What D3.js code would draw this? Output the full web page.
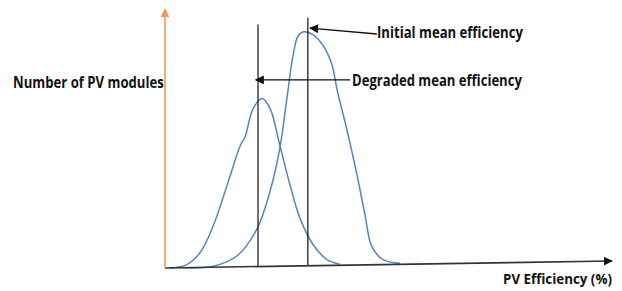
<!DOCTYPE html>
<html>
<head>
<meta charset="utf-8">
<script src="https://cdn.jsdelivr.net/npm/d3@7"></script>
<style>
    body { margin: 0; background: #ffffff; }
    svg { display: block; }
    .lbl { font-family: "Liberation Sans Narrow", "Open Sans", sans-serif; font-weight: bold; font-size: 16px; fill: #111; }
</style>
</head>
<body>
<div id="chart"></div>
<script>
// efficiency (arbitrary units) vs number of modules
const degradedX = [1.1, 4.9, 7.9, 10.8, 13.9, 16.9, 18.0, 19.8, 21.8, 23.6, 25.8, 28.1, 30.3, 33.3, 36.4, 39.3];
const degradedY = [0, 1.2, 5.8, 15.9, 31.4, 46.9, 50.4, 61.2, 65.1, 61.2, 46.9, 31.4, 18.6, 8.1, 2.3, 0.4];

const initialX = [4.0, 10.8, 16.2, 20.7, 23.6, 25.8, 27.4, 28.8, 29.9, 31.2, 33.3, 35.5, 37.5, 38.7, 40.9, 43.1, 44.9, 46.5, 49.0, 52.8];
const initialY = [0, 0.4, 4.3, 14.7, 29.1, 45.7, 65.1, 81.8, 89.1, 90.7, 89.5, 85.3, 77.9, 67.8, 52.3, 35.3, 19.8, 7.0, 1.9, 0.4];

const meanX = [20.9, 32.1];
const meanTop = [93.8, 96.1];

const labels = ["Initial mean efficiency", "Degraded mean efficiency"];
const yTitle = "Number of PV modules";
const xTitle = "PV Efficiency (%)";

const width = 622;
const height = 291;

const svg = d3.select("#chart")
    .append("svg")
    .attr("width", width)
    .attr("height", height);

const x = d3.scaleLinear().domain([0, 100]).range([165, 610]);
const y = d3.scaleLinear().domain([0, 100]).range([268, 10]);

const defs = svg.append("defs");
function marker(id, color) {
    defs.append("marker")
        .attr("id", id)
        .attr("viewBox", "0 0 10 10")
        .attr("refX", 9)
        .attr("refY", 5)
        .attr("markerWidth", 9)
        .attr("markerHeight", 9)
        .attr("markerUnits", "userSpaceOnUse")
        .attr("orient", "auto")
        .append("path")
        .attr("d", "M0,0L10,5L0,10Z")
        .attr("fill", color);
}
marker("blackhead", "#111");
marker("orangehead", "#f39a5a");

// the sketch's baseline is tilted a little
const g = svg.append("g")
    .attr("transform", `translate(${x(0)},${y(0)}) skewY(-0.9) translate(${-x(0)},${-y(0)})`);

const line = d3.line()
    .x(d => x(d[0]))
    .y(d => y(d[1]))
    .curve(d3.curveCatmullRom.alpha(0.5));

const degraded = degradedX.map((v, i) => [v, degradedY[i]]);
const initial = initialX.map((v, i) => [v, initialY[i]]);

g.selectAll("path.curve")
    .data([degraded, initial])
    .enter().append("path")
    .attr("class", "curve")
    .attr("d", line)
    .attr("fill", "none")
    .attr("stroke", "#5585c0")
    .attr("stroke-width", 1.5);

g.selectAll("line.mean")
    .data(meanX)
    .enter().append("line")
    .attr("class", "mean")
    .attr("x1", d => x(d))
    .attr("x2", d => x(d))
    .attr("y1", y(0))
    .attr("y2", (d, i) => y(meanTop[i]))
    .attr("stroke", "#111")
    .attr("stroke-width", 1.2);

// x axis
g.append("line")
    .attr("x1", x(0))
    .attr("x2", x(100) + 2)
    .attr("y1", y(0))
    .attr("y2", y(0))
    .attr("stroke", "#333")
    .attr("stroke-width", 1.6)
    .attr("marker-end", "url(#blackhead)");

// y axis
svg.append("line")
    .attr("x1", x(0))
    .attr("x2", x(0))
    .attr("y1", y(0))
    .attr("y2", y(100) - 1)
    .attr("stroke", "#f39a5a")
    .attr("stroke-width", 1.6)
    .attr("marker-end", "url(#orangehead)");

// annotation arrows
const arrows = [
    { from: [47.6, 90.7], to: [32.6, 93.0] },
    { from: [41.6, 72.9], to: [20.4, 72.9] }
];
svg.selectAll("line.arrow")
    .data(arrows)
    .enter().append("line")
    .attr("class", "arrow")
    .attr("x1", d => x(d.from[0]))
    .attr("y1", d => y(d.from[1]))
    .attr("x2", d => x(d.to[0]))
    .attr("y2", d => y(d.to[1]))
    .attr("stroke", "#111")
    .attr("stroke-width", 1.3)
    .attr("marker-end", "url(#blackhead)");

// squeeze each label horizontally so it spans the same width as the sketch (Calibri-like)
function label(str, left, base, w, size) {
    const t = svg.append("text").attr("class", "lbl")
        .style("font-size", size + "px")
        .text(str);
    const natural = t.node().getComputedTextLength();
    t.attr("transform", `translate(${left},${base}) scale(${w / natural},1)`);
}

label(labels[0], 377, 38, 146, 16);
label(labels[1], 352, 86, 170, 16);
label(yTitle, 13, 88, 151, 16);
label(xTitle, 503, 284, 109, 15);
</script>
</body>
</html>
